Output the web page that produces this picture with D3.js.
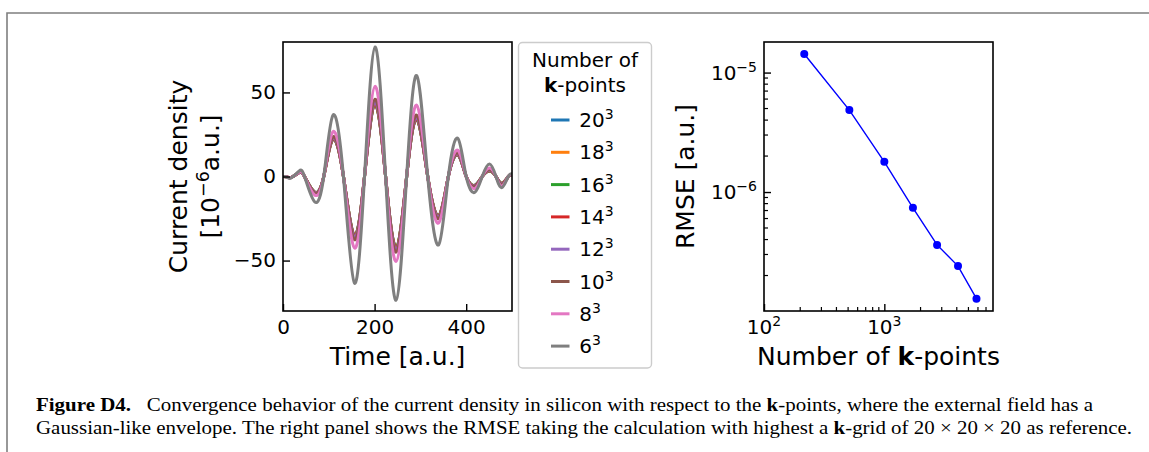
<!DOCTYPE html>
<html><head><meta charset="utf-8">
<script src="https://cdn.jsdelivr.net/npm/d3@7"></script>
<style>
body{margin:0;background:#fff}
svg{display:block}
text{font-family:"DejaVu Sans",sans-serif;fill:#000}
</style>
</head><body>
<svg id="c" width="1149" height="452"></svg>
<script>
// ---------- data ----------
const time = [0,8,18,35,47,69,89,109,132,156,178,201,224,247,270,292,316,340,361,382,400,419,435,451,465,478,492,500];
const kLabels = ["20","18","16","14","12","10","8","6"];
const seriesColors = ["#1f77b4","#ff7f0e","#2ca02c","#d62728","#9467bd","#8c564b","#e377c2","#7f7f7f"];
const j20 = [0,-0.2,-0.5,2.2,0,-9.2,0,22.0,0,-34.9,0,42.5,0,-41.9,0,33.9,0,-23.2,0,12.8,0,-5.2,0,3.2,0,-4.0,0,0.9];
const j18 = [0,-0.2,-0.5,2.2,0,-9.2,0,22.1,0,-35.0,0,42.6,0,-42.0,0,34.0,0,-23.3,0,12.9,0,-5.25,0,3.25,0,-4.05,0,0.9];
const j16 = [0,-0.2,-0.5,2.2,0,-9.3,0,22.2,0,-35.1,0,42.8,0,-42.2,0,34.1,0,-23.4,0,13.0,0,-5.3,0,3.3,0,-4.1,0,0.9];
const j14 = [0,-0.2,-0.5,2.2,0,-9.4,0,22.4,0,-35.4,0,43.2,0,-42.6,0,34.4,0,-23.6,0,13.1,0,-5.4,0,3.4,0,-4.2,0,0.9];
const j12 = [0,-0.2,-0.5,2.3,0,-9.6,0,22.8,0,-36.0,0,44.0,0,-43.4,0,35.0,0,-24.0,0,13.4,0,-5.6,0,3.6,0,-4.3,0,0.9];
const j10 = [0,-0.2,-0.5,2.4,0,-10.0,0,23.6,0,-37.6,0,46.0,0,-45.0,0,36.4,0,-25.0,0,14.0,0,-6.0,0,4.0,0,-4.6,0,1.0];
const j8  = [0,-0.2,-0.6,2.6,0,-11.0,0,26.6,0,-42.5,0,53.6,0,-50.5,0,42.4,0,-27.6,0,15.6,0,-7.2,0,5.0,0,-5.6,0,1.0];
const j6  = [0,-0.3,-0.8,3.2,0,-15.0,0,36.4,0,-63.4,0,77.0,0,-73.6,0,60.0,0,-40.6,0,22.6,0,-9.4,0,7.4,0,-6.6,0,1.6];
const currentSeries = [j20,j18,j16,j14,j12,j10,j8,j6];

const kpoints = [216,512,1000,1728,2744,4096,5832];
const rmse = [1.43e-5,4.85e-6,1.79e-6,7.38e-7,3.61e-7,2.40e-7,1.28e-7];

const xTicksL = [0,200,400];
const yTicksL = [-50,0,50];
const xTicksR = [100,1000];
const xTickExpR = ["2","3"];
const yTicksR = [1e-5,1e-6];
const yTickExpR = ["\u22125","\u22126"];

// ---------- drawing ----------
const svg = d3.select("#c");
svg.append("path").attr("d","M7,452V13H1149").attr("fill","none")
   .attr("stroke","#7f7f7f").attr("stroke-width",1.6);

function styleAxis(g){
  g.select(".domain").remove();
  g.selectAll(".tick line").attr("stroke","#000").attr("stroke-width",1.4);
  g.selectAll(".tick text").attr("font-size",20).attr("font-family","DejaVu Sans").attr("fill","#000");
}

// ----- left panel -----
const L = {x0:283,x1:512,y0:42,y1:311};
const xL = d3.scaleLinear().domain([0,500]).range([L.x0,L.x1]);
const yL = d3.scaleLinear().domain([-80,80]).range([L.y1,L.y0]);
svg.append("clipPath").attr("id","clipL").append("rect")
   .attr("x",L.x0).attr("y",L.y0).attr("width",L.x1-L.x0).attr("height",L.y1-L.y0);
const gLines = svg.append("g").attr("clip-path","url(#clipL)");
const lineGen = d3.line().x((d,i)=>xL(time[i])).y(d=>yL(d)).curve(d3.curveNatural);
currentSeries.forEach((s,i)=>{
  gLines.append("path").attr("d",lineGen(s)).attr("fill","none")
    .attr("stroke",seriesColors[i]).attr("stroke-width",3).attr("stroke-linejoin","round");
});
svg.append("g").attr("transform",`translate(0,${L.y1})`)
  .call(d3.axisBottom(xL).tickValues(xTicksL).tickSize(-7).tickPadding(9)).call(styleAxis);
svg.append("g").attr("transform",`translate(${L.x0},0)`)
  .call(d3.axisLeft(yL).tickValues(yTicksL).tickSize(-7).tickPadding(7)).call(styleAxis);
svg.append("rect").attr("x",L.x0).attr("y",L.y0).attr("width",L.x1-L.x0).attr("height",L.y1-L.y0)
  .attr("fill","none").attr("stroke","#000").attr("stroke-width",1.6);

svg.append("text").attr("x",(L.x0+L.x1)/2).attr("y",365).attr("text-anchor","middle")
  .attr("font-size",25).text("Time [a.u.]");
svg.append("text").attr("transform",`translate(187,${(L.y0+L.y1)/2}) rotate(-90)`)
  .attr("text-anchor","middle").attr("font-size",25).text("Current density");
const yl2 = svg.append("text").attr("transform",`translate(218.5,${(L.y0+L.y1)/2}) rotate(-90)`)
  .attr("text-anchor","middle").attr("font-size",25);
yl2.append("tspan").text("[10");
yl2.append("tspan").attr("font-size",17.5).attr("dy",-10).text("\u22126");
yl2.append("tspan").attr("dy",10).text("a.u.]");

// ----- legend -----
const leg = svg.append("g");
leg.append("rect").attr("x",518.5).attr("y",42.5).attr("width",133).attr("height",325.5)
  .attr("rx",4).attr("fill","#fff").attr("stroke","#cccccc").attr("stroke-width",1.4);
leg.append("text").attr("x",585).attr("y",66.7).attr("text-anchor","middle").attr("font-size",20).text("Number of");
const lt2 = leg.append("text").attr("x",585).attr("y",92.3).attr("text-anchor","middle").attr("font-size",20);
lt2.append("tspan").attr("font-weight","bold").text("k");
lt2.append("tspan").text("-points");
kLabels.forEach((k,i)=>{
  const y = 120 + i*32.3;
  leg.append("line").attr("x1",551).attr("x2",569.5).attr("y1",y).attr("y2",y)
    .attr("stroke",seriesColors[i]).attr("stroke-width",3);
  const t = leg.append("text").attr("x",579.3).attr("y",y+7).attr("font-size",20);
  t.append("tspan").text(k);
  t.append("tspan").attr("font-size",14).attr("dy",-8).text("3");
});

// ----- right panel -----
const R = {x0:764,x1:993,y0:42,y1:311};
const xR = d3.scaleLog().domain([100,8000]).range([R.x0,R.x1]);
const yR = d3.scaleLog().domain([Math.pow(10,-6.996),Math.pow(10,-4.744)]).range([R.y1,R.y0]);
const gR = svg.append("g");
// minor ticks
const xMinor = [200,300,400,500,600,700,800,900,2000,3000,4000,5000,6000,7000];
const yMinor = [2e-7,3e-7,4e-7,5e-7,6e-7,7e-7,8e-7,9e-7,2e-6,3e-6,4e-6,5e-6,6e-6,7e-6,8e-6,9e-6];
xMinor.forEach(v=>gR.append("line").attr("x1",xR(v)).attr("x2",xR(v)).attr("y1",R.y1).attr("y2",R.y1-4)
  .attr("stroke","#000").attr("stroke-width",1.2));
yMinor.forEach(v=>gR.append("line").attr("y1",yR(v)).attr("y2",yR(v)).attr("x1",R.x0).attr("x2",R.x0+4)
  .attr("stroke","#000").attr("stroke-width",1.2));
svg.append("g").attr("transform",`translate(0,${R.y1})`)
  .call(d3.axisBottom(xR).tickValues(xTicksR).tickFormat("").tickSize(-7)).call(styleAxis);
svg.append("g").attr("transform",`translate(${R.x0},0)`)
  .call(d3.axisLeft(yR).tickValues(yTicksR).tickFormat("").tickSize(-7)).call(styleAxis);
xTicksR.forEach((v,i)=>{
  const t = svg.append("text").attr("x",xR(v)).attr("y",334).attr("text-anchor","middle").attr("font-size",20);
  t.append("tspan").text("10");
  t.append("tspan").attr("font-size",14).attr("dy",-8).text(xTickExpR[i]);
});
yTicksR.forEach((v,i)=>{
  const t = svg.append("text").attr("x",757).attr("y",yR(v)+7).attr("text-anchor","end").attr("font-size",20);
  t.append("tspan").text("10");
  t.append("tspan").attr("font-size",14).attr("dy",-8).text(yTickExpR[i]);
});
const rLine = d3.line().x((d,i)=>xR(kpoints[i])).y(d=>yR(d));
gR.append("path").attr("d",rLine(rmse)).attr("fill","none").attr("stroke","#0000ff").attr("stroke-width",1.4);
gR.selectAll("circle.pt").data(rmse).join("circle").attr("class","pt")
  .attr("cx",(d,i)=>xR(kpoints[i])).attr("cy",d=>yR(d)).attr("r",4).attr("fill","#0000ff");
svg.append("rect").attr("x",R.x0).attr("y",R.y0).attr("width",R.x1-R.x0).attr("height",R.y1-R.y0)
  .attr("fill","none").attr("stroke","#000").attr("stroke-width",1.6);
svg.append("text").attr("transform",`translate(693.5,${(R.y0+R.y1)/2}) rotate(-90)`)
  .attr("text-anchor","middle").attr("font-size",25).text("RMSE [a.u.]");
const xl = svg.append("text").attr("x",(R.x0+R.x1)/2).attr("y",365).attr("text-anchor","middle").attr("font-size",25);
xl.append("tspan").text("Number of ");
xl.append("tspan").attr("font-weight","bold").text("k");
xl.append("tspan").text("-points");

// ----- caption -----
const capFont = "'Liberation Serif',serif";
const c1 = svg.append("text").attr("x",36).attr("y",411).attr("font-size",18)
  .style("font-family",capFont).attr("fill","#231f20")
  .attr("textLength",1093-36).attr("lengthAdjust","spacingAndGlyphs");
c1.append("tspan").attr("font-weight","bold").style("font-family",capFont).text("Figure D4.");
c1.append("tspan").style("font-family",capFont).text("\u2002 Convergence behavior of the current density in silicon with respect to the ");
c1.append("tspan").attr("font-weight","bold").style("font-family",capFont).text("k");
c1.append("tspan").style("font-family",capFont).text("-points, where the external field has a");
const c2 = svg.append("text").attr("x",36).attr("y",434).attr("font-size",18)
  .style("font-family",capFont).attr("fill","#231f20")
  .attr("textLength",1132-36).attr("lengthAdjust","spacingAndGlyphs");
c2.append("tspan").style("font-family",capFont).text("Gaussian-like envelope. The right panel shows the RMSE taking the calculation with highest a ");
c2.append("tspan").attr("font-weight","bold").style("font-family",capFont).text("k");
c2.append("tspan").style("font-family",capFont).text("-grid of 20 \u00d7 20 \u00d7 20 as reference.");
</script>
</body></html>
